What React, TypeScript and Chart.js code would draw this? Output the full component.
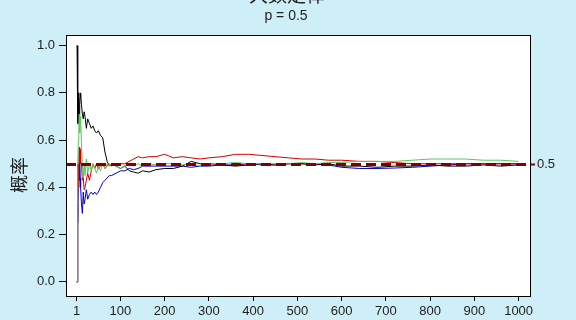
import React, { useEffect, useRef } from "react";
import { Chart, registerables } from "chart.js";

Chart.register(...registerables);

const TITLE = "大数定律";
const SUBTITLE = "p = 0.5";
const Y_TITLE = "概率";
const REF_VALUE = 0.5;

const Y_TICKS = [0, 0.2, 0.4, 0.6, 0.8, 1.0];
const X_TICKS = [1, 100, 200, 300, 400, 500, 600, 700, 800, 900, 1000];

const N = [
  1, 2, 3, 4, 5, 6, 7, 8, 9, 10,
  12, 14, 16, 18, 20, 23, 26, 30, 34, 38,
  42, 46, 50, 55, 60, 65, 70, 75, 80, 90,
  100, 110, 120, 130, 140, 150, 165, 180, 200, 220,
  240, 260, 280, 300, 330, 360, 390, 420, 450, 480,
  510, 540, 570, 600, 640, 680, 720, 760, 800, 840,
  880, 920, 960, 1000,
];

const BLACK = [
  1, 1, 0.67, 0.75, 0.8, 0.67, 0.71, 0.75, 0.78, 0.8,
  0.75, 0.71, 0.69, 0.72, 0.7, 0.65, 0.69, 0.67, 0.65, 0.66,
  0.64, 0.63, 0.64, 0.62, 0.61, 0.55, 0.51, 0.49, 0.5, 0.49,
  0.48, 0.49, 0.47, 0.465, 0.46, 0.47, 0.465, 0.475, 0.48, 0.48,
  0.49, 0.51, 0.5, 0.5, 0.495, 0.49, 0.495, 0.5, 0.495, 0.5,
  0.5, 0.495, 0.5, 0.49, 0.49, 0.485, 0.49, 0.49, 0.495, 0.49,
  0.49, 0.495, 0.49, 0.495,
];

const GREEN = [
  0, 0, 0.33, 0.5, 0.6, 0.67, 0.71, 0.63, 0.67, 0.7,
  0.58, 0.5, 0.44, 0.5, 0.45, 0.52, 0.46, 0.5, 0.47, 0.5,
  0.48, 0.46, 0.49, 0.47, 0.5, 0.48, 0.5, 0.49, 0.5, 0.49,
  0.48, 0.49, 0.5, 0.49, 0.5, 0.49, 0.5, 0.495, 0.5, 0.5,
  0.495, 0.5, 0.49, 0.5, 0.5, 0.505, 0.5, 0.5, 0.5, 0.5,
  0.505, 0.5, 0.505, 0.505, 0.51, 0.51, 0.51, 0.515, 0.52, 0.52,
  0.52, 0.515, 0.515, 0.51,
];

const RED = [
  0, 0, 0.33, 0.5, 0.4, 0.5, 0.57, 0.5, 0.56, 0.5,
  0.5, 0.43, 0.44, 0.39, 0.4, 0.43, 0.46, 0.43, 0.47, 0.5,
  0.48, 0.5, 0.48, 0.49, 0.5, 0.48, 0.49, 0.5, 0.49, 0.5,
  0.5, 0.5, 0.51, 0.52, 0.53, 0.525, 0.53, 0.53, 0.54, 0.525,
  0.53, 0.525, 0.52, 0.525, 0.53, 0.54, 0.54, 0.535, 0.53, 0.525,
  0.52, 0.52, 0.515, 0.515, 0.51, 0.51, 0.505, 0.5, 0.5, 0.5,
  0.5, 0.5, 0.5, 0.5,
];

const BLUE = [
  0, 0, 0.33, 0.25, 0.4, 0.5, 0.43, 0.5, 0.44, 0.4,
  0.33, 0.29, 0.38, 0.33, 0.35, 0.39, 0.35, 0.37, 0.38, 0.37,
  0.38, 0.37, 0.38, 0.4, 0.42, 0.43, 0.44, 0.45, 0.45, 0.46,
  0.47, 0.47, 0.48, 0.475, 0.48, 0.49, 0.49, 0.49, 0.49, 0.49,
  0.49, 0.485, 0.49, 0.49, 0.495, 0.495, 0.5, 0.495, 0.495, 0.5,
  0.5, 0.5, 0.495, 0.485, 0.48, 0.48, 0.482, 0.485, 0.49, 0.495,
  0.5, 0.5, 0.5, 0.5,
];

// drawn in this order (last on top)
const SERIES = [
  { name: "s2", values: GREEN, color: "#5fc45f" },
  { name: "s3", values: RED, color: "#d40000" },
  { name: "s1", values: BLACK, color: "#000000" },
  { name: "s4", values: BLUE, color: "#0000c8" },
];

const BG = "rgb(207,239,248)";
const SHIFT = 20;

const deco = {
  id: "deco",
  beforeDraw(chart: any) {
    const { ctx, chartArea: a } = chart;
    ctx.save();
    ctx.fillStyle = "#ffffff";
    ctx.fillRect(a.left, a.top, a.right - a.left, a.bottom - a.top);
    ctx.restore();
  },
  afterDatasetsDraw(chart: any) {
    const { ctx, chartArea: a, scales } = chart;
    const y = Math.round(scales.y.getPixelForValue(REF_VALUE)) + 0.5;
    ctx.save();
    ctx.beginPath();
    ctx.rect(a.left, a.top, a.right - a.left, a.bottom - a.top);
    ctx.clip();
    ctx.strokeStyle = "#800000";
    ctx.lineWidth = 3;
    ctx.setLineDash([10, 5]);
    ctx.beginPath();
    ctx.moveTo(a.left, y);
    ctx.lineTo(a.right, y);
    ctx.stroke();
    ctx.restore();
    ctx.save();
    ctx.strokeStyle = "#800000";
    ctx.lineWidth = 2;
    ctx.beginPath();
    ctx.moveTo(a.right, y);
    ctx.lineTo(a.right + 4, y);
    ctx.stroke();
    ctx.fillStyle = "#222";
    ctx.font = '13px "Liberation Sans"';
    ctx.textAlign = "left";
    ctx.textBaseline = "middle";
    ctx.fillText(String(REF_VALUE), a.right + 6, y);
    ctx.restore();
  },
  afterDraw(chart: any) {
    const { ctx, chartArea: a } = chart;
    ctx.save();
    ctx.strokeStyle = "#000";
    ctx.lineWidth = 1;
    ctx.strokeRect(a.left + 0.5, a.top + 0.5, a.right - a.left - 1, a.bottom - a.top - 1);
    ctx.fillStyle = "#222";
    ctx.textAlign = "center";
    ctx.textBaseline = "middle";
    ctx.font = '19px "Noto Sans CJK SC"';
    ctx.fillText(TITLE, 287, SHIFT - 5);
    ctx.textBaseline = "alphabetic";
    ctx.font = '14px "Liberation Sans"';
    ctx.fillText(SUBTITLE, 286, SHIFT + 20);
    ctx.translate(19, SHIFT + 175);
    ctx.rotate(-Math.PI / 2);
    ctx.textBaseline = "middle";
    ctx.font = '18px "Noto Sans CJK SC"';
    ctx.fillText(Y_TITLE, 0, 0);
    ctx.restore();
  },
};

export default function App() {
  const ref = useRef<HTMLCanvasElement | null>(null);
  useEffect(() => {
    if (!ref.current) return;
    const chart = new Chart(ref.current, {
      type: "line",
      data: {
        datasets: SERIES.map((s) => ({
          label: s.name,
          data: N.map((n, i) => ({ x: n, y: s.values[i] })),
          borderColor: s.color,
          borderWidth: 1,
          pointRadius: 0,
          tension: 0,
          fill: false,
        })),
      },
      options: {
        animation: false,
        responsive: false,
        layout: { padding: { left: 0, right: 45, top: 35 + SHIFT, bottom: 0 } },
        plugins: { legend: { display: false }, tooltip: { enabled: false }, title: { display: false } },
        scales: {
          x: {
            type: "linear",
            min: -23,
            max: 1028,
            afterBuildTicks: (s: any) => {
              s.ticks = X_TICKS.map((v) => ({ value: v }));
            },
            afterFit: (s: any) => {
              s.height = 23;
            },
            grid: { drawOnChartArea: false, drawTicks: true, tickLength: 4, color: "#000" },
            border: { display: false },
            ticks: {
              color: "#222",
              font: { family: "Liberation Sans", size: 13 },
              padding: 3,
              maxRotation: 0,
              autoSkip: false,
              callback: (v: any) => String(v),
            },
          },
          y: {
            min: -0.064,
            max: 1.045,
            afterBuildTicks: (s: any) => {
              s.ticks = Y_TICKS.map((v) => ({ value: v }));
            },
            afterFit: (s: any) => {
              s.width = 66;
            },
            grid: { drawOnChartArea: false, drawTicks: true, tickLength: 7, color: "#000" },
            border: { display: false },
            ticks: {
              color: "#222",
              font: { family: "Liberation Sans", size: 13 },
              padding: 4,
              autoSkip: false,
              callback: (v: any) => Number(v).toFixed(1),
            },
          },
        },
      },
      plugins: [deco],
    });
    return () => chart.destroy();
  }, []);
  return (
    <div
      style={{
        position: "fixed",
        left: 0,
        top: 0,
        width: 576,
        height: 320,
        overflow: "hidden",
        background: BG,
      }}
    >
      <canvas
        ref={ref}
        width={576}
        height={320 + SHIFT}
        style={{ position: "absolute", left: 0, top: -SHIFT, width: 576, height: 320 + SHIFT }}
      />
    </div>
  );
}
